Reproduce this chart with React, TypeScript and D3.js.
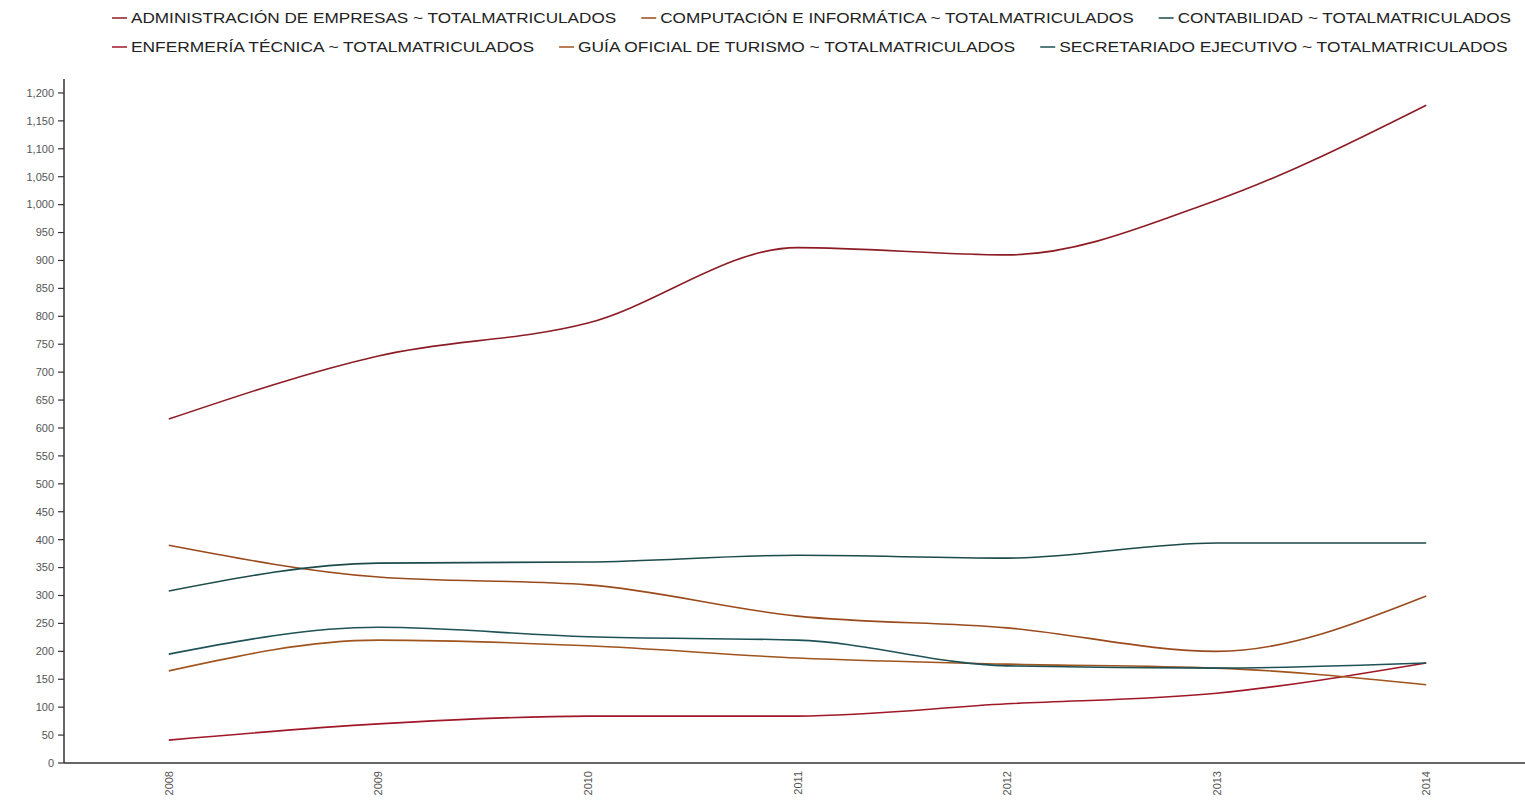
import React, { useEffect, useRef } from "react";
import * as d3 from "d3";

const years = ["2008", "2009", "2010", "2011", "2012", "2013", "2014"];
const seriesNames = [
  "ADMINISTRACIÓN DE EMPRESAS ~ TOTALMATRICULADOS",
  "COMPUTACIÓN E INFORMÁTICA ~ TOTALMATRICULADOS",
  "CONTABILIDAD ~ TOTALMATRICULADOS",
  "ENFERMERÍA TÉCNICA ~ TOTALMATRICULADOS",
  "GUÍA OFICIAL DE TURISMO ~ TOTALMATRICULADOS",
  "SECRETARIADO EJECUTIVO ~ TOTALMATRICULADOS",
];
const administracion = [616, 729, 788, 923, 910, 1008, 1178];
const computacion = [390, 333, 319, 263, 242, 200, 299];
const contabilidad = [308, 358, 360, 372, 367, 394, 394];
const enfermeria = [41, 70, 84, 84, 106, 125, 179];
const guia = [165, 220, 210, 188, 177, 170, 140];
const secretariado = [195, 243, 226, 220, 174, 170, 179];
const seriesValues = [administracion, computacion, contabilidad, enfermeria, guia, secretariado];
const colors = ["#8c1c24", "#9a4a1c", "#1d4a4a", "#a01828", "#a0541e", "#1e5256"];
const yTicks = d3.range(0, 1201, 50);

export default function App() {
  const ref = useRef<SVGSVGElement>(null);
  useEffect(() => {
    const svg = d3.select(ref.current);
    svg.selectAll("*").remove();
    const W = 1525;
    const x = d3.scalePoint<string>().domain(years).range([64, 1531]).padding(0.5);
    const y = d3.scaleLinear().domain([0, 1225]).range([763, 79]);

    // y axis
    const gy = svg.append("g").attr("transform", "translate(64,0)");
    gy.append("line").attr("x1", 0).attr("x2", 0).attr("y1", y(1225)).attr("y2", y(0)).attr("stroke", "#333").attr("stroke-width", 1.5);
    const ty = gy.selectAll("g.t").data(yTicks).enter().append("g").attr("transform", (d) => `translate(0,${y(d)})`);
    ty.append("line").attr("x1", -6).attr("x2", 0).attr("stroke", "#333").attr("stroke-width", 1.2);
    ty.append("text").attr("x", -10).attr("dy", "0.35em").attr("text-anchor", "end")
      .attr("font-family", "Liberation Sans, Arial, sans-serif").attr("font-size", 11).attr("fill", "#555")
      .text((d) => d3.format(",")(d));

    // x axis
    const gx = svg.append("g");
    gx.append("line").attr("x1", 64).attr("x2", W).attr("y1", y(0)).attr("y2", y(0)).attr("stroke", "#333").attr("stroke-width", 1.5);
    gx.selectAll("text").data(years).enter().append("text")
      .attr("transform", (d) => `translate(${x(d)! + 4},771) rotate(-90)`)
      .attr("text-anchor", "end")
      .attr("font-family", "Liberation Sans, Arial, sans-serif").attr("font-size", 11).attr("fill", "#555")
      .text((d) => d);

    // lines
    const line = d3.line<number>().x((_, i) => x(years[i])!).y((d) => y(d)).curve(d3.curveMonotoneX);
    seriesValues.forEach((vals, i) => {
      svg.append("path").attr("d", line(vals)!).attr("fill", "none").attr("stroke", colors[i]).attr("stroke-width", 1.6);
    });

    // legend
    const rows = [[0, 1, 2], [3, 4, 5]];
    const rowY = [18, 47];
    const rowScale = [1.225, 1.24];
    rows.forEach((r, ri) => {
      let cx = 112;
      r.forEach((si) => {
        const g = svg.append("g");
        g.append("line").attr("x1", cx).attr("x2", cx + 15).attr("y1", rowY[ri]).attr("y2", rowY[ri]).attr("stroke", colors[si]).attr("stroke-width", 1.5);
        const t = g.append("text").attr("x", cx + 19).attr("y", rowY[ri]).attr("dy", "0.35em")
          .attr("font-family", "Liberation Sans, Arial, sans-serif").attr("font-size", 14).attr("fill", "#222")
          .text(seriesNames[si]);
        const w0 = (t.node() as SVGTextElement).getComputedTextLength();
        const w = w0 * rowScale[ri];
        t.attr("textLength", w).attr("lengthAdjust", "spacingAndGlyphs");
        cx += 19 + w + 25;
      });
    });
  }, []);
  return (
    <svg ref={ref} width={1525} height={808} style={{ position: "absolute", left: 0, top: 0, background: "#fff" }} />
  );
}
